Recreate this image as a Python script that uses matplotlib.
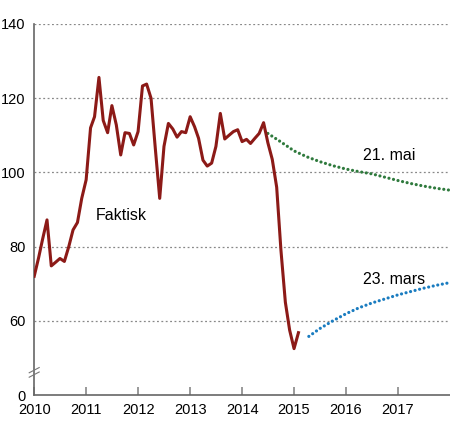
import pandas as pd
import matplotlib
matplotlib.use('Agg')
import matplotlib.pyplot as plt
import matplotlib.dates as mdates

plt.rcParams['font.family'] = ['Liberation Sans', 'DejaVu Sans']
plt.rcParams['font.size'] = 10.5

# Faktisk, monthly Jan 2010 - Feb 2015
faktisk_start = '2010-01-01'
faktisk = [72.0, 77.0, 82.0, 87.2, 74.8, 75.8, 76.8, 76.0, 80.0, 84.5, 86.5, 93.0,
           98.0, 112.0, 115.0, 125.6, 114.0, 110.7, 118.0, 112.8, 104.7, 110.7, 110.5, 107.4,
           111.0, 123.3, 123.8, 120.0, 106.5, 93.0, 107.0, 113.2, 111.7, 109.5, 111.0, 110.7,
           115.0, 112.3, 109.2, 103.3, 101.7, 102.5, 107.0, 115.9, 109.0, 110.0, 111.0, 111.5,
           108.3, 108.9, 107.8, 109.2, 110.5, 113.4, 108.0, 103.5, 96.0, 79.0, 65.0, 57.5,
           52.5, 56.8]

# forecasts, quarterly
mai_start = '2014-07-01'
mai = [110.5, 108.2, 105.8, 104.2, 102.9, 101.8, 100.9, 100.2, 99.6, 98.7,
       97.8, 97.0, 96.3, 95.7, 95.2]
mars_start = '2015-04-15'
mars = [55.8, 57.9, 60.0, 61.9, 63.5, 64.8, 65.9, 67.0, 67.9, 68.8, 69.6, 70.3]

y_ticks = [40, 60, 80, 100, 120, 140]
y_labels = ['0', '60', '80', '100', '120', '140']

d_fakt = pd.date_range(faktisk_start, periods=len(faktisk), freq='MS')
d_mai = pd.date_range(mai_start, periods=len(mai), freq='QS-JAN')
d_mars = [pd.Timestamp(mars_start)] + list(pd.date_range('2015-07-01', periods=len(mars) - 1, freq='QS-JAN'))

fig = plt.figure(figsize=(4.5, 4.36), dpi=100)
ax = fig.add_axes([0.076, 0.094, 0.924, 0.851])

ax.plot(d_fakt, faktisk, color='#8c1a17', lw=2.2, zorder=3)
ax.plot(d_mai, mai, color='#2f7a3d', lw=2.3, linestyle=(0, (0.01, 1.45)),
        dash_capstyle='round', zorder=2)
ax.plot(d_mars, mars, color='#1a7cc0', lw=2.3, linestyle=(0, (0.01, 1.45)),
        dash_capstyle='round', zorder=2)

ax.text(pd.Timestamp('2011-03-10'), 88.3, 'Faktisk', fontsize=11.5, va='center')
ax.text(pd.Timestamp('2016-05-01'), 104.5, '21. mai', fontsize=11.5, va='center')
ax.text(pd.Timestamp('2016-05-01'), 71.2, '23. mars', fontsize=11.5, va='center')

ax.set_xlim(pd.Timestamp('2010-01-01'), pd.Timestamp('2018-01-01'))
ax.set_ylim(40, 140)
ax.set_yticks(y_ticks)
ax.set_yticklabels(y_labels)
ax.xaxis.set_major_locator(mdates.YearLocator())
ax.xaxis.set_major_formatter(mdates.DateFormatter('%Y'))
ax.set_xticks(ax.get_xticks()[:-1])

for v in y_ticks[1:]:
    ax.axhline(v, color='#888888', lw=0.9, linestyle=(0, (1.5, 2)), zorder=1)

for s in ['top', 'right']:
    ax.spines[s].set_visible(False)
for s in ['left', 'bottom']:
    ax.spines[s].set_color('#666666')
    ax.spines[s].set_linewidth(1.2)
ax.tick_params(axis='y', length=0, pad=6, labelsize=10.5)
ax.tick_params(axis='x', direction='in', length=6, color='#888888', width=1.2,
               pad=6, labelsize=10.5)

# axis break marks
for dy in (0, 0.012):
    ax.plot([-0.012, 0.012], [0.048 + dy, 0.062 + dy], transform=ax.transAxes,
            color='#777777', lw=0.8, clip_on=False, zorder=5)

fig.savefig('out.png', dpi=100)
